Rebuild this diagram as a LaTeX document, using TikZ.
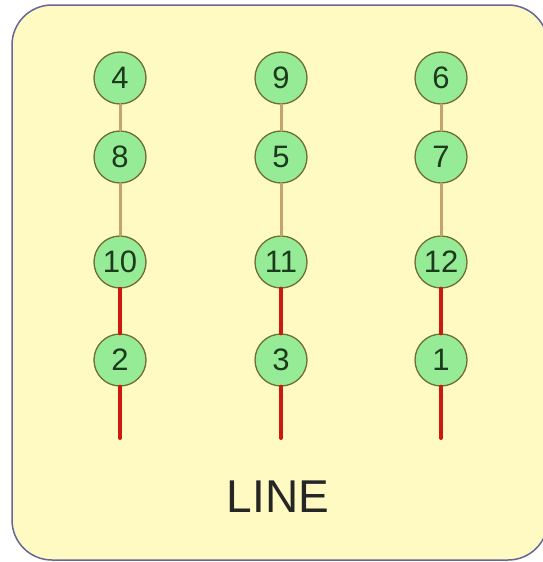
\documentclass[tikz,border=0pt]{standalone}
\usepackage{fontspec}
\setmainfont{Liberation Sans}
\definecolor{paper}{HTML}{FFFAC2}
\definecolor{ballfill}{HTML}{96EC96}
\definecolor{balledge}{HTML}{6E6E30}
\definecolor{digit}{HTML}{1C3A1C}
\definecolor{stick}{HTML}{C2A46C}
\definecolor{wire}{HTML}{CC1A10}
\begin{document}
\begin{tikzpicture}[x=1pt, y=-1pt, ball/.style={draw=balledge, circle, line width=1.3pt, fill=ballfill, text=digit, minimum size=52pt, inner sep=0pt, font=\fontsize{31}{31}\selectfont}, line join = round, line cap = round]
      \useasboundingbox (0,0) rectangle (543,562);
      \draw [fill=paper, draw=gray!80!blue, line width=1.5pt, rounded corners=40pt] (12,5) rectangle (548,560);

      \node[ball] (a4) at (120,78) {4};
      \node[ball] (a8) at (120,157) {8};
      \node[ball] (a10) at (120,262) {10};
      \node[ball] (a2) at (120,360) {2};
      \node[ball] (b9) at (281,78) {9};
      \node[ball] (b5) at (281,157) {5};
      \node[ball] (b11) at (281,262) {11};
      \node[ball] (b3) at (281,360) {3};
      \node[ball] (c6) at (441,78) {6};
      \node[ball] (c7) at (441,157) {7};
      \node[ball] (c12) at (441,262) {12};
      \node[ball] (c1) at (441,360) {1};

      \coordinate (e1) at (120,438);
      \coordinate (e2) at (281,438);
      \coordinate (e3) at (441,438);

      \draw [stick, line width=3pt] (a4) -- (a8) -- (a10);
      \draw [stick, line width=3pt] (b9) -- (b5) -- (b11);
      \draw [stick, line width=3pt] (c6) -- (c7) -- (c12);
      \draw [wire, line width=4pt] (a10) -- (a2) -- (e1);
      \draw [wire, line width=4pt] (b11) -- (b3) -- (e2);
      \draw [wire, line width=4pt] (c12) -- (c1) -- (e3);

      \node[font=\fontsize{46}{46}\selectfont, text=black!85] (title) at (278,497) {LINE};
    \end{tikzpicture}
\end{document}
